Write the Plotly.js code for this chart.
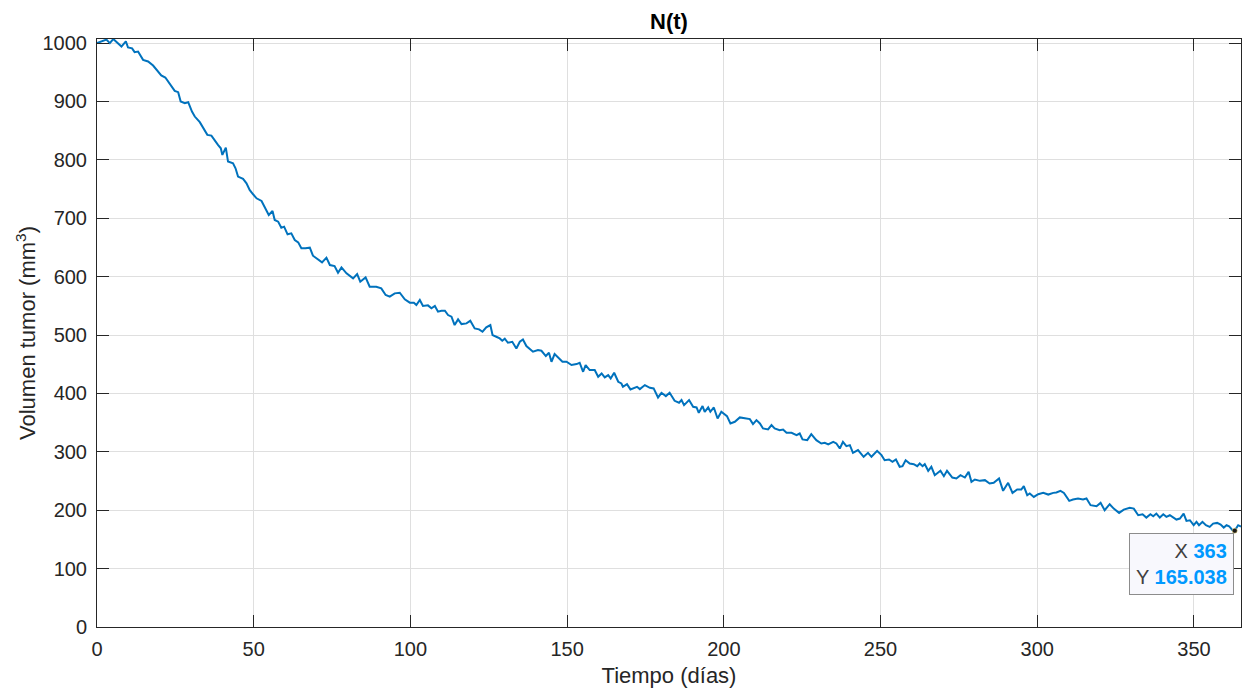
<!DOCTYPE html>
<html>
<head>
<meta charset="utf-8">
<script src="https://cdn.plot.ly/plotly-3.0.1.min.js"></script>
<style>
html,body{margin:0;padding:0;background:#fff;}
#chart{width:1243px;height:691px;}
</style>
</head>
<body>
<div id="chart"></div>
<script>
// Tiempo (días)
const dias = [
  0, 1.4, 3.0, 4.1, 5.2, 7.8, 9.2, 9.9, 11.2, 12.0, 13.1, 14.7, 16.3, 17.9, 19.5, 20.5, 21.8, 22.7, 23.7, 24.8,
  25.9, 26.7, 28.0, 29.1, 30.3, 31.2, 32.8, 34.4, 35.2, 36.5, 37.4, 38.6, 39.5, 40.0, 41.1, 41.8, 43.4, 44.2, 45.0, 46.6,
  47.7, 48.7, 49.8, 50.9, 52.5, 53.5, 54.8, 56.0, 56.7, 57.8, 58.8, 59.7, 60.8, 62.0, 63.1, 64.2, 65.2, 66.5, 67.9, 68.9,
  70.5, 71.8, 73.2, 74.3,
  75.8, 76.9, 78.0, 79.6, 81.7, 83.0, 84.0, 84.9, 85.7, 87.0, 89.1, 90.7, 92.1, 93.4, 95.0, 96.6, 98.2, 99.8, 101.1, 101.9,
  103.0, 104.0, 105.6, 106.7, 107.8, 108.8, 109.9, 111.0, 112.0, 113.1, 114.1, 115.2, 116.3, 117.9, 119.1, 120.5, 121.9, 123.0, 124.2, 125.5,
  126.2, 127.4, 128.5, 129.3, 130.1, 131.1, 132.5, 133.8, 134.9, 135.9, 137.0, 139.1, 140.7, 141.8, 143.2, 144.2, 145.0, 146.0,
  147.1, 148.5, 149.8, 151.4, 153.0, 154.0, 155.1, 155.9, 157.2, 158.8, 159.9, 161.0, 162.0, 163.1, 163.9, 165.0, 166.3, 167.3, 167.8, 169.1,
  170.2, 171.6, 172.3, 173.2, 174.8, 176.4, 177.6, 179.0, 180.1, 181.5, 182.7, 184.3, 185.7, 186.5, 187.3, 188.9, 190.2, 191.3, 192.0, 193.2,
  193.9, 195.0, 195.7, 196.8, 198.0, 199.2, 200.3, 201.0, 202.1, 203.5, 205.1, 207.2, 208.3, 209.3, 210.4, 211.5, 212.5, 214.1, 215.2, 216.2,
  217.8, 218.9, 220.0, 221.6, 223.2, 224.2,
  225.1, 226.6, 227.9, 229.5, 231.1, 232.2, 233.3, 234.9, 235.9, 237.0, 238.0, 239.1, 240.2, 241.2, 242.8, 244.6, 246.0, 247.1, 248.9, 250.3,
  251.3, 252.7, 253.8, 254.9, 256.1, 257.0, 258.0, 259.3, 260.6, 261.7, 262.5, 263.4, 264.1, 265.2, 266.2, 267.3, 269.1, 270.2, 271.2, 272.9,
  274.2, 275.5, 276.9, 278.1, 279.0, 280.1, 281.7, 283.3, 284.8, 286.1, 287.8, 289.1, 290.7, 292.1, 293.6, 294.9, 295.7, 296.8, 297.6,
  298.9, 300.3, 301.9, 303.5, 305.1, 306.1, 307.4, 308.5, 310.2, 311.4, 313.0, 314.6, 315.7, 317.0, 318.9, 320.2, 321.5, 323.1, 324.4, 326.1,
  327.6, 329.5, 330.8, 332.2, 333.6, 334.8, 336.1, 337.0, 338.0, 339.1, 340.2, 341.2, 342.3, 343.3, 344.4, 345.5, 346.7, 347.6, 348.7, 349.9,
  350.8, 351.6, 352.7, 353.8, 355.0, 356.1, 357.4, 358.5, 359.5, 360.4, 361.2, 362.3, 363, 364.1, 365
];
// Volumen tumor (mm^3)
const volumen = [
  1000, 1003, 1006, 1000, 1007, 994, 1003, 992.5, 991, 984.5, 985.6, 971.3, 968.5, 961.6, 951.3, 944.5, 941.1, 934.2, 925.6, 918.2,
  915.9, 899.9, 897.1, 898.8, 882.8, 874.2, 864.5, 848.5, 842.8, 841.6, 834.2, 825.6, 819.9, 808.5, 821.1, 797.1, 794.2, 785.6, 771.3, 767.4,
  759.9, 748.5, 741.1, 734.2, 729.6, 719.9, 705.6, 712.5, 697.1, 694.2, 683.9, 685.6, 672.5, 674.2, 662.8, 658.8, 648.5, 648.5, 649.6, 635.9,
  630.2, 624.5, 632.5, 619.9,
  618.2, 606.8, 615.9, 605.7, 597.1, 604.5, 591.4, 595.4, 598.8, 582.8, 582.8, 580.0, 568.5, 565.7, 571.4, 572.5, 561.1, 555.4, 555.4, 551.4,
  560.0, 549.7, 550.8, 545.7, 549.7, 540.0, 541.7, 541.7, 534.2, 531.4, 517.1, 526.8, 518.8, 520.0, 524.5, 511.4, 509.7, 505.7, 513.1, 517.1,
  500.0, 497.1, 494.2, 490.2, 493.7, 486.8, 488.5, 477.1, 488.5, 492.5, 481.1, 471.4, 474.2, 473.1, 464.0, 469.7, 454.2, 467.4,
  461.7, 454.3, 454.3, 448.6, 450.3, 452.6, 437.1, 448.6, 440.0, 440.0, 428.6, 434.3, 427.4, 431.4, 425.7, 435.4, 420.0, 417.1, 411.4, 416.0,
  406.9, 409.7, 411.4, 407.4, 414.3, 409.7, 408.6, 393.1, 401.1, 395.4, 401.1, 387.4, 384.0, 388.6, 380.0, 388.6, 377.1, 376.0, 366.9, 378.3,
  368.6, 376.0, 368.6, 376.0, 357.1, 368.6, 364.6, 361.1, 348.6, 351.4, 358.9, 356.6, 356.0, 347.4, 354.3, 348.6, 340.0, 338.3, 345.7, 340.0,
  337.1, 338.3, 332.6, 332.6, 328.6, 331.4,
  321.2, 320.0, 330.3, 320.0, 314.3, 315.5, 312.6, 317.2, 314.3, 305.7, 317.2, 309.7, 311.5, 298.3, 302.9, 291.5, 298.3, 291.5, 301.7, 294.3,
  285.7, 286.9, 282.9, 286.9, 274.3, 275.5, 285.7, 280.0, 278.9, 275.5, 280.0, 275.5, 278.9, 267.5, 274.3, 260.0, 267.5, 258.3, 267.5, 256.0,
  254.3, 260.0, 256.0, 265.7, 248.6, 252.6, 250.3, 251.5, 245.7, 246.9, 254.3, 233.2, 246.9, 229.7, 235.5, 235.5, 241.2, 225.7, 228.6,
  222.8, 227.4, 229.7, 226.8, 229.7, 230.3, 233.1, 229.7, 216.0, 218.3, 220.0, 218.3, 220.0, 208.6, 206.8, 212.6, 200.0, 210.3, 202.8, 195.4,
  201.1, 204.0, 202.8, 191.4, 193.1, 187.4, 193.1, 189.7, 194.3, 187.4, 193.1, 188.6, 191.4, 187.4, 184.0, 185.7, 194.3, 181.7, 182.8, 174.3,
  180.0, 174.3, 180.0, 174.3, 171.4, 177.1, 178.3, 175.4, 170.3, 174.3, 172.6, 165.7, 165.038, 174.3, 172
];
// Data tip
const tipX = [363];
const tipY = [165.038];

const tickFont = {family: 'Liberation Sans, Arial, sans-serif', size: 20, color: '#262626'};
const labelFont = {family: 'Liberation Sans, Arial, sans-serif', size: 22, color: '#262626'};

const traces = [
  {
    x: dias, y: volumen, type: 'scatter', mode: 'lines',
    line: {color: '#0072BD', width: 2},
    hoverinfo: 'x+y', showlegend: false
  },
  {
    x: tipX, y: tipY, type: 'scatter', mode: 'markers',
    marker: {color: '#1a1a1a', size: 5, line: {color: '#ffe680', width: 0.5}},
    hoverinfo: 'skip', showlegend: false
  }
];

const layout = {
  width: 1243, height: 691,
  margin: {l: 97, r: 2, t: 39, b: 64, pad: 0},
  paper_bgcolor: '#ffffff', plot_bgcolor: '#ffffff',
  showlegend: false,
  title: {
    text: '<b>N(t)</b>',
    font: {family: 'Liberation Sans, Arial, sans-serif', size: 22, color: '#000000'},
    x: 0.5, xref: 'paper', xanchor: 'center',
    y: 1, yref: 'paper', yanchor: 'bottom', pad: {b: 10}
  },
  xaxis: {
    range: [0, 365], tickmode: 'array', tickvals: [0, 50, 100, 150, 200, 250, 300, 350],
    ticks: 'inside', ticklen: 12, tickwidth: 1, tickcolor: '#262626',
    showline: true, linecolor: '#262626', linewidth: 1, mirror: 'ticks',
    showgrid: true, gridcolor: '#dfdfdf', gridwidth: 1, zeroline: false,
    tickfont: tickFont, ticklabelstandoff: 4,
    title: {text: 'Tiempo (días)', font: labelFont, standoff: 8}
  },
  yaxis: {
    range: [0, 1007], tickmode: 'array', tickvals: [0, 100, 200, 300, 400, 500, 600, 700, 800, 900, 1000],
    ticks: 'inside', ticklen: 12, tickwidth: 1, tickcolor: '#262626',
    showline: true, linecolor: '#262626', linewidth: 1, mirror: 'ticks',
    showgrid: true, gridcolor: '#dfdfdf', gridwidth: 1, zeroline: false,
    tickfont: tickFont, ticklabelstandoff: 5,
    title: {text: 'Volumen tumor (mm<sup>3</sup>)', font: labelFont, standoff: 0}
  },
  annotations: [{
    x: tipX[0], y: tipY[0], xref: 'x', yref: 'y',
    showarrow: false, xanchor: 'right', yanchor: 'top', xshift: -1, yshift: -2,
    align: 'right',
    text: 'X <span style="color:#0099ff"><b>' + tipX[0] + '</b></span><br>' +
          'Y <span style="color:#0099ff"><b>' + tipY[0] + '</b></span>',
    font: {family: 'Liberation Sans, Arial, sans-serif', size: 20, color: '#404040'},
    bgcolor: '#f8f8fd', bordercolor: '#8c8c8c', borderwidth: 1, borderpad: 6
  }]
};

Plotly.newPlot('chart', traces, layout, {displayModeBar: false, staticPlot: true});
</script>
</body>
</html>
